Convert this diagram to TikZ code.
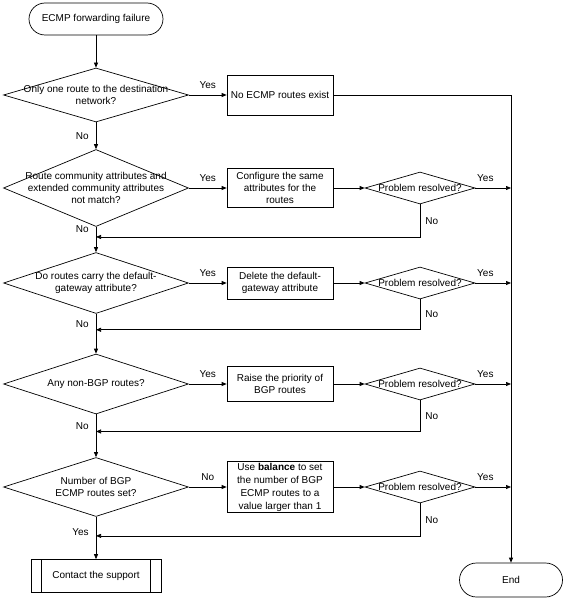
\documentclass[tikz,border=0pt]{standalone}
\usepackage{fontspec}
\setmainfont{Liberation Sans}
\usetikzlibrary{positioning,shapes.geometric,arrows.meta,calc}

\begin{document}
\begin{tikzpicture}[x=1pt,y=-1pt,
  font=\fontsize{10}{12}\selectfont,
  line width=0.7pt,
  arr/.style={-{Triangle[length=5pt,width=4pt]}},
  term/.style={draw, rounded corners=16pt, minimum width=134pt, minimum height=32pt},
  box/.style={draw, rectangle, align=center, minimum width=106pt, inner sep=1pt},
  decision/.style={draw, diamond, inner sep=0pt, minimum width=185pt},
  check/.style={draw, diamond, inner sep=0pt, minimum width=110pt, minimum height=32pt,
    label={center:Problem resolved?}},
  lbl/.style={inner sep=1pt}]
\useasboundingbox (0,0) rectangle (564,599);
% Main column
\node[term] (start) at (96,19) {ECMP forwarding failure};
\node[decision, minimum height=54pt,
  label={[align=center]center:Only one route to the destination\\network?}] (only) at (96,95) {};
\node[decision, minimum height=77pt,
  label={[align=center]center:Route community attributes and\\extended community attributes\\not match?}] (comm) at (96,188) {};
\node[decision, minimum height=61pt,
  label={[align=center]center:Do routes carry the default-\\gateway attribute?}] (gw) at (96,283) {};
\node[decision, minimum height=60pt,
  label={center:Any non-BGP routes?}] (nonbgp) at (96,384) {};
\node[decision, minimum height=59pt,
  label={[align=center]center:Number of BGP\\ECMP routes set?}] (num) at (96,487) {};
\node[draw, minimum width=130pt, minimum height=33pt] (support) at (96,576) {Contact the support};
\draw ([xshift=11pt]support.north west) -- ([xshift=11pt]support.south west);
\draw ([xshift=-11pt]support.north east) -- ([xshift=-11pt]support.south east);
% Actions
\node[box, minimum height=40pt] (noecmp) at (280,95) {No ECMP routes exist};
\node[box, minimum height=39pt] (config) at (280,188) {Configure the same\\attributes for the\\routes};
\node[box, minimum height=32pt] (delgw) at (280,283) {Delete the default-\\gateway attribute};
\node[box, minimum height=35pt] (raise) at (280,384) {Raise the priority of\\BGP routes};
\node[box, minimum height=51pt, font=\fontsize{10}{13}\selectfont] (bal) at (280,487)
  {Use \textbf{balance} to set\\the number of BGP\\ECMP routes to a\\value larger than 1};
% Checks
\node[check] (chk1) at (420,188) {};
\node[check] (chk2) at (420,283) {};
\node[check] (chk3) at (420,384) {};
\node[check] (chk4) at (420,487) {};
\node[term, minimum width=103pt, minimum height=34pt, rounded corners=17pt] (end) at (511,580) {End};
% Main flow
\draw[arr] (start) -- (only);
\draw[arr] (only) -- node[lbl, left=6pt]{No} (comm);
\draw[arr] (comm) -- node[lbl, left=6pt, pos=0.1]{No} (gw);
\draw[arr] (gw) -- node[lbl, left=6pt, pos=0.26]{No} (nonbgp);
\draw[arr] (nonbgp) -- node[lbl, left=6pt, pos=0.28]{No} (num);
\draw[arr] (num) -- node[lbl, left=6pt, pos=0.36]{Yes} (support);
% Branches
\draw[arr] (only) -- node[lbl, above=5.5pt]{Yes} (noecmp);
\draw[arr] (comm) -- node[lbl, above=5.5pt]{Yes} (config);
\draw[arr] (gw) -- node[lbl, above=5.5pt]{Yes} (delgw);
\draw[arr] (nonbgp) -- node[lbl, above=5.5pt]{Yes} (raise);
\draw[arr] (num) -- node[lbl, above=5.5pt]{No} (bal);
\draw[arr] (config) -- (chk1);
\draw[arr] (delgw) -- (chk2);
\draw[arr] (raise) -- (chk3);
\draw[arr] (bal) -- (chk4);
% To the end
\draw[arr] (noecmp) -| (end);
\draw[arr] (chk1) -- node[lbl, above=5.5pt, pos=0.28]{Yes} (chk1 -| end);
\draw[arr] (chk2) -- node[lbl, above=5.5pt, pos=0.28]{Yes} (chk2 -| end);
\draw[arr] (chk3) -- node[lbl, above=5.5pt, pos=0.28]{Yes} (chk3 -| end);
\draw[arr] (chk4) -- node[lbl, above=5.5pt, pos=0.28]{Yes} (chk4 -| end);
% Back to the main column
\draw[arr] (chk1.south) |- node[lbl, right=4pt, pos=0.25]{No} ($(comm.south)!.4!(gw.north)$);
\draw[arr] (chk2.south) |- node[lbl, right=4pt, pos=0.25]{No} ($(gw.south)!.4!(nonbgp.north)$);
\draw[arr] (chk3.south) |- node[lbl, right=4pt, pos=0.25]{No} ($(nonbgp.south)!.4!(num.north)$);
\draw[arr] (chk4.south) |- node[lbl, right=4pt, pos=0.25]{No} ($(num.south)!.45!(support.north)$);
\end{tikzpicture}
\end{document}
